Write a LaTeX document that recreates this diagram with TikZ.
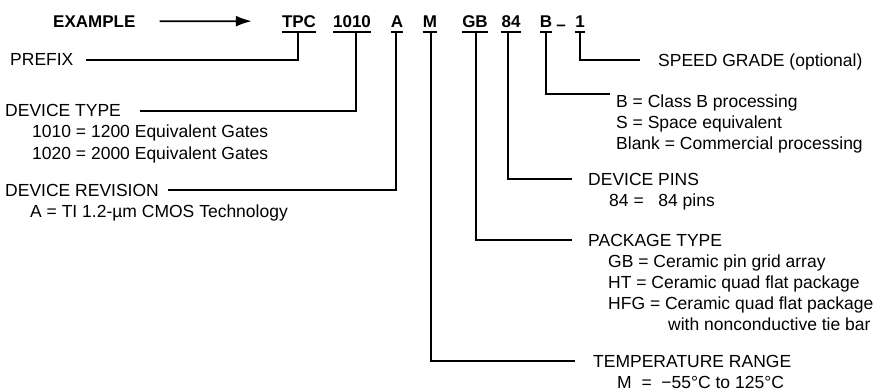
\documentclass[tikz,border=0pt]{standalone}
\usepackage{fontspec}
\setmainfont{Liberation Sans}
\usetikzlibrary{arrows.meta}
\begin{document}
\begin{tikzpicture}[x=1pt,y=-1pt,
  lbl/.style={anchor=base west, inner sep=0pt, font=\fontsize{17.5}{21}\selectfont},
  code/.style={anchor=base, inner sep=0pt, font=\fontsize{17}{20}\selectfont\bfseries},
  conn/.style={line width=1.8pt},
  uline/.style={line width=1.8pt}]
\useasboundingbox (0,0) rectangle (874,391);

% example + arrow
\node[anchor=base west, inner sep=0pt, font=\fontsize{17}{20}\selectfont\bfseries] (example) at (53,27) {EXAMPLE};

% codes
\node[code] (tpc) at (299,27) {TPC};
\node[code] (c1010) at (352,27) {1010};
\node[code] (ca) at (397,27) {A};
\node[code] (cm) at (430,27) {M};
\node[code] (cgb) at (475,27) {GB};
\node[code] (c84) at (511,27) {84};
\node[code] (cb) at (546,27) {B};
\node[code] (cdash) at (561,30) {–};
\node[code] (c1) at (580,27) {1};

\draw[line width=1.8pt, -{Latex[length=16pt,width=11pt]}] ([xshift=24pt]example.east) -- ([xshift=-30pt]tpc.west);

% underlines
\foreach \n in {tpc,c1010,ca,cm,cgb,c84,cb,c1}{
  \draw[uline] ([yshift=-5pt]\n.base west) -- ([yshift=-5pt]\n.base east);
}

% vertical starts
\coordinate (vtpc) at (298,32);
\coordinate (v1010) at (356,32);
\coordinate (va) at (396,32);
\coordinate (vm) at (431,32);
\coordinate (vgb) at (476,32);
\coordinate (v84) at (508,32);
\coordinate (vb) at (546,32);
\coordinate (v1) at (580,32);

% line ends
\coordinate (eprefix) at (86,60);
\coordinate (etype) at (140,111);
\coordinate (erev) at (168,190);
\coordinate (etemp) at (575,361);
\coordinate (epack) at (572,240);
\coordinate (epins) at (572,179);
\coordinate (eclass) at (610,94);
\coordinate (espeed) at (640,60);

\draw[conn] (vtpc) |- (eprefix);
\draw[conn] (v1010) |- (etype);
\draw[conn] (va) |- (erev);
\draw[conn] (vm) |- (etemp);
\draw[conn] (vgb) |- (epack);
\draw[conn] (v84) |- (epins);
\draw[conn] (vb) |- (eclass);
\draw[conn] (v1) |- (espeed);

% left labels
\node[lbl] (prefix) at (10,65) {PREFIX};
\node[lbl] (dtype) at (5,116) {DEVICE TYPE};
\node[lbl] (dt1) at (32,137) {1010 = 1200 Equivalent Gates};
\node[lbl] (dt2) at (32,159) {1020 = 2000 Equivalent Gates};
\node[lbl] (drev) at (5,196) {DEVICE REVISION};
\node[lbl] (dr1) at (30,217) {A = TI 1.2-µm CMOS Technology};

% right labels
\node[lbl] (speed) at (658,66) {SPEED GRADE (optional)};
\node[lbl] (cl1) at (616,107) {B = Class B processing};
\node[lbl] (cl2) at (616,128) {S = Space equivalent};
\node[lbl] (cl3) at (616,149) {Blank = Commercial processing};
\node[lbl] (pins) at (588,185) {DEVICE PINS};
\node[lbl] (pins1) at (609,206) {84 =\ \ \ 84 pins};
\node[lbl] (pack) at (588,246) {PACKAGE TYPE};
\node[lbl] (pk1) at (608,267) {GB = Ceramic pin grid array};
\node[lbl] (pk2) at (608,288) {HT = Ceramic quad flat package};
\node[lbl] (pk3) at (608,309) {HFG = Ceramic quad flat package};
\node[lbl] (pk4) at (668,330) {with nonconductive tie bar};
\node[lbl] (temp) at (593,367) {TEMPERATURE RANGE};
\node[lbl] (temp1) at (617,388) {M\ \ =\ \ −55°C to 125°C};
\end{tikzpicture}
\end{document}
